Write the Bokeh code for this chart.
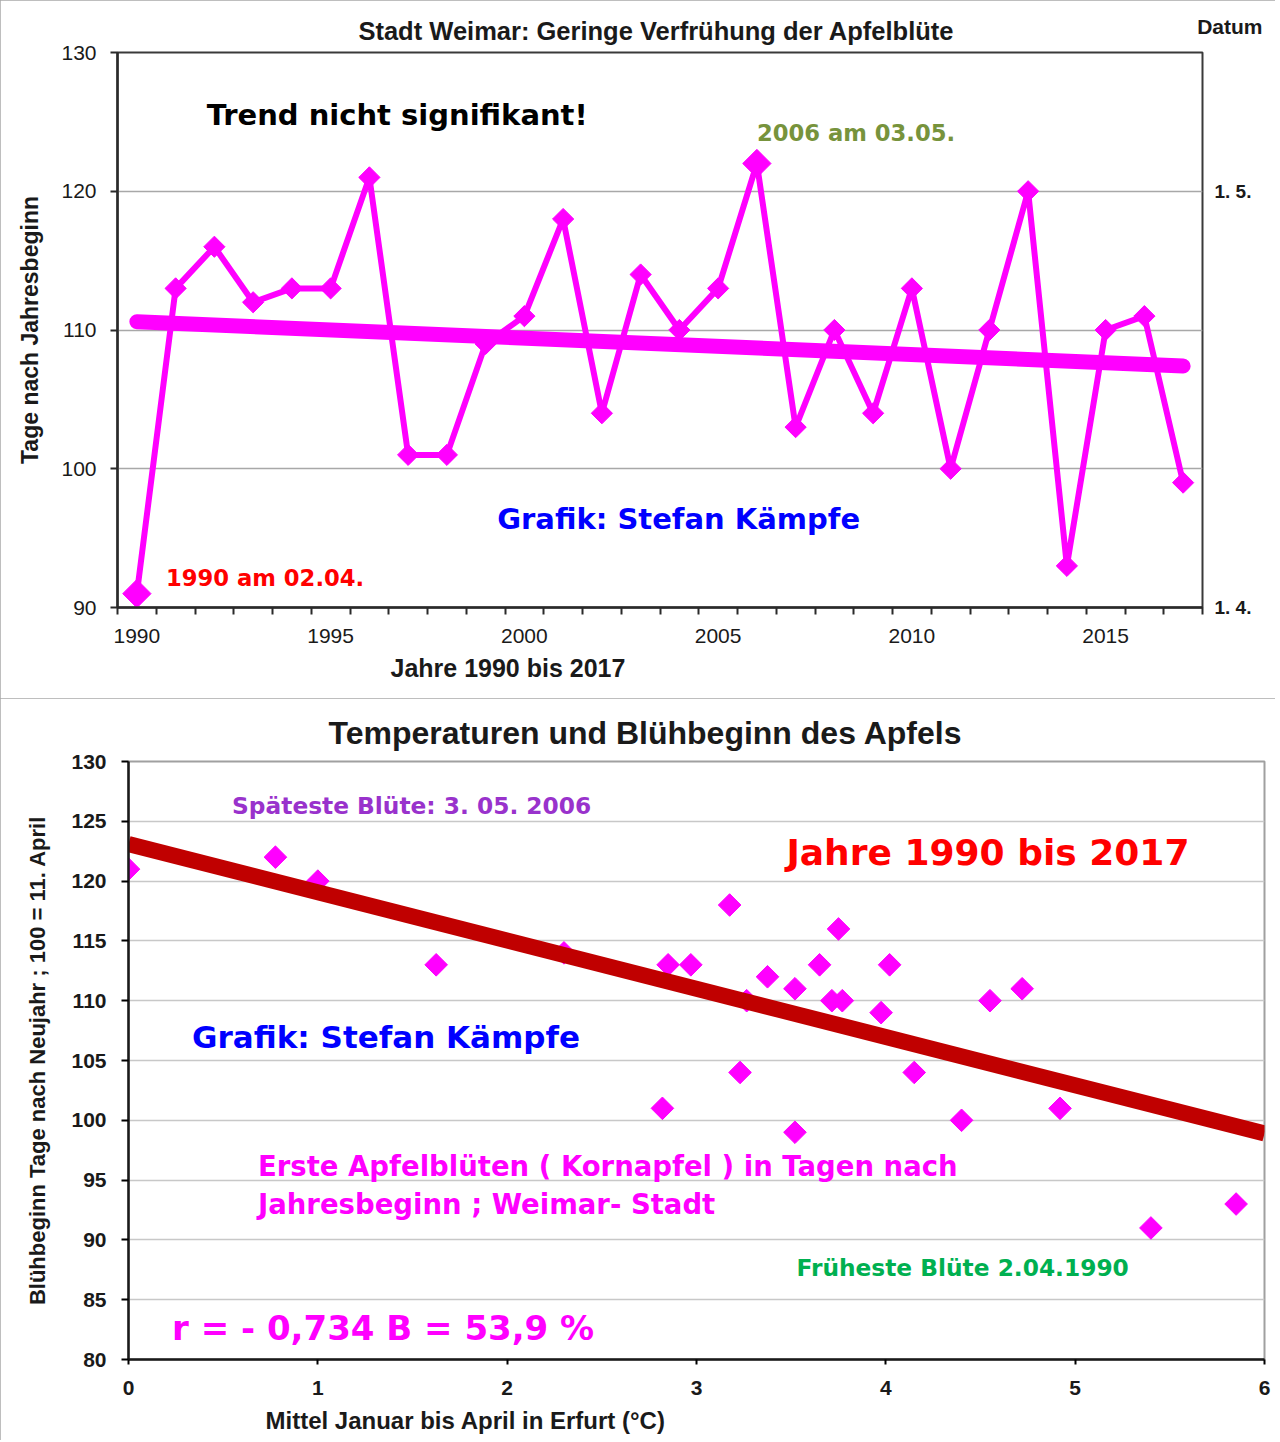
from bokeh.plotting import figure
from bokeh.models import Label, LinearAxis, FixedTicker, Range1d, Title
from bokeh.embed import file_html
from bokeh.resources import INLINE

# ---------------- data: top chart ----------------
years = list(range(1990, 2018))
bloom_days = [91, 113, 116, 112, 113, 113, 121, 101, 101, 109, 111, 118, 104, 114,
              110, 113, 122, 103, 110, 104, 113, 100, 110, 120, 93, 110, 111, 99]
trend_years = [1990, 2017]
trend_days = [110.6, 107.4]
year_tick_labels = [1990, 1995, 2000, 2005, 2010, 2015]
day_ticks_top = [90, 100, 110, 120, 130]
date_ticks = {90: "1. 4.", 120: "1. 5."}

# ---------------- data: bottom chart ----------------
temp_jan_apr = [0.0, 0.776, 1.0, 1.625, 2.30, 2.82, 2.85, 2.97, 3.175, 3.23, 3.265, 3.375,
                3.52, 3.52, 3.65, 3.715, 3.75, 3.77, 3.975, 4.02, 4.15, 4.40, 4.55, 4.72,
                4.92, 5.40, 5.85]
bloom_scatter = [121, 122, 120, 113, 114, 101, 113, 113, 118, 104, 110, 112,
                 111, 99, 113, 110, 116, 110, 109, 113, 104, 100, 110, 111,
                 101, 91, 93]
reg_temp = [0, 6]
reg_days = [123.1, 98.9]
temp_ticks = [0, 1, 2, 3, 4, 5, 6]
day_ticks_bottom = [80, 85, 90, 95, 100, 105, 110, 115, 120, 125, 130]

MAGENTA = "#FF00FF"
ARIAL = "Liberation Sans"
HEAVY = "DejaVu Sans"
INK = "#1a1a1a"

# =============== TOP CHART ===============
p1 = figure(width=1275, height=698, x_range=Range1d(1989.5, 2017.5), y_range=Range1d(90, 130),
            output_backend="svg", toolbar_location=None, title=None,
            min_border_left=117, min_border_right=73, min_border_top=52, min_border_bottom=91)
p1.styles = {"outline": "2px solid #a8a8a8", "outline-offset": "-2px"}
p1.outline_line_color = "#3a3a3a"
p1.outline_line_width = 2

p1.xgrid.visible = False
p1.ygrid.ticker = FixedTicker(ticks=[100, 110, 120])
p1.ygrid.grid_line_color = "#a8a8a8"
p1.ygrid.grid_line_width = 1.5

half_years = [y - 0.5 for y in years] + [years[-1] + 0.5]
xa = p1.xaxis[0]
xa.ticker = FixedTicker(ticks=year_tick_labels, minor_ticks=half_years)
xa.major_tick_line_color = None
xa.major_tick_out = 0
xa.minor_tick_out = 7
xa.minor_tick_in = 0
xa.minor_tick_line_color = "#2a2a2a"
xa.minor_tick_line_width = 2
xa.axis_line_color = "#2a2a2a"
xa.axis_line_width = 2.5
xa.major_label_text_font = ARIAL
xa.major_label_text_font_size = "21px"
xa.major_label_text_color = INK
xa.major_label_standoff = 14

ya = p1.yaxis[0]
ya.ticker = FixedTicker(ticks=day_ticks_top)
ya.minor_tick_line_color = None
ya.major_tick_out = 7
ya.major_tick_in = 0
ya.major_tick_line_width = 2
ya.major_tick_line_color = "#2a2a2a"
ya.axis_line_color = "#2a2a2a"
ya.axis_line_width = 2.5
ya.major_label_text_font = ARIAL
ya.major_label_text_font_size = "21px"
ya.major_label_text_color = INK
ya.major_label_standoff = 14
ya.axis_label = "Tage nach Jahresbeginn"
ya.axis_label_text_font = ARIAL
ya.axis_label_text_font_size = "23px"
ya.axis_label_text_font_style = "bold"
ya.axis_label_text_color = INK
ya.axis_label_standoff = 15

ra = LinearAxis(ticker=FixedTicker(ticks=list(date_ticks.keys())),
                major_label_overrides=date_ticks)
ra.axis_line_color = None
ra.major_tick_line_color = None
ra.minor_tick_line_color = None
ra.major_tick_out = 0
ra.major_label_standoff = 12
ra.major_label_text_font = ARIAL
ra.major_label_text_font_size = "19px"
ra.major_label_text_font_style = "bold"
ra.major_label_text_color = INK
p1.add_layout(ra, "right")

# chart title drawn as the label of an empty top axis
ta = LinearAxis(ticker=FixedTicker(ticks=[]))
ta.axis_line_color = None
ta.major_tick_line_color = None
ta.minor_tick_line_color = None
ta.major_tick_out = 0
ta.major_label_standoff = 12
ta.major_label_text_font_size = "21px"
ta.axis_label = "Stadt Weimar:  Geringe Verfrühung der Apfelblüte"
ta.axis_label_text_font = ARIAL
ta.axis_label_text_font_size = "25.5px"
ta.axis_label_text_font_style = "bold"
ta.axis_label_text_color = INK
ta.axis_label_standoff = 8
p1.add_layout(ta, "above")

p1.add_layout(Title(text="Datum", align="right", offset=-60, vertical_align="bottom",
                    text_font=ARIAL, text_font_size="21px", text_font_style="bold",
                    text_color=INK, standoff=-48), "above")

p1.add_layout(Title(text="Jahre 1990 bis 2017", align="left", offset=273,
                    text_font=ARIAL, text_font_size="25px", text_font_style="bold",
                    text_color=INK, standoff=12), "below")

p1.line(years, bloom_days, line_color=MAGENTA, line_width=6)
p1.scatter(years, bloom_days, marker="square", angle=0.785398, size=15,
           fill_color=MAGENTA, line_color=MAGENTA)
ext_idx = [bloom_days.index(min(bloom_days)), bloom_days.index(max(bloom_days))]
p1.scatter([years[i] for i in ext_idx], [bloom_days[i] for i in ext_idx],
           marker="square", angle=0.785398, size=20, fill_color=MAGENTA, line_color=MAGENTA)
p1.line(trend_years, trend_days, line_color=MAGENTA, line_width=15, line_cap="round")

def lab(p, x, y, text, size, color, font=HEAVY, style="bold", align="left"):
    p.add_layout(Label(x=x, y=y, text=text, text_font=font, text_font_size=size,
                       text_font_style=style, text_color=color, text_align=align,
                       text_baseline="middle"))

lab(p1, 1991.8, 125.5, "Trend nicht signifikant!", "29px", "#000000")
lab(p1, 2006.0, 124.2, "2006 am 03.05.", "22.7px", "#77933C")
lab(p1, 1999.3, 96.4, "Grafik: Stefan Kämpfe", "29px", "#0000FF")
lab(p1, 1990.75, 92.1, "1990 am 02.04.", "22.7px", "#FF0000")

# =============== BOTTOM CHART ===============
p2 = figure(width=1275, height=742, x_range=Range1d(0, 6), y_range=Range1d(80, 130),
            output_backend="svg", toolbar_location=None,
            min_border_left=128, min_border_right=11, min_border_top=63, min_border_bottom=81)
p2.styles = {"outline": "2px solid #a8a8a8", "outline-offset": "-2px"}
p2.title.text = "Temperaturen und Blühbeginn  des Apfels"
p2.title.align = "left"
p2.title.offset = 200
p2.title.text_font = ARIAL
p2.title.text_font_size = "32px"
p2.title.text_font_style = "bold"
p2.title.text_color = INK
p2.title.standoff = 22
p2.outline_line_color = "#a0a0a0"
p2.outline_line_width = 2

p2.xgrid.visible = False
p2.ygrid.ticker = FixedTicker(ticks=day_ticks_bottom)
p2.ygrid.grid_line_color = "#c8c8c8"
p2.ygrid.grid_line_width = 1.5

xb = p2.xaxis[0]
xb.ticker = FixedTicker(ticks=temp_ticks)
xb.minor_tick_line_color = None
xb.major_tick_out = 5
xb.major_tick_in = 0
xb.major_tick_line_width = 2
xb.axis_line_color = INK
xb.axis_line_width = 2.5
xb.major_label_text_font = ARIAL
xb.major_label_text_font_size = "21px"
xb.major_label_text_font_style = "bold"
xb.major_label_text_color = INK
xb.major_label_standoff = 16

yb = p2.yaxis[0]
yb.ticker = FixedTicker(ticks=day_ticks_bottom)
yb.minor_tick_line_color = None
yb.major_tick_out = 7
yb.major_tick_in = 0
yb.major_tick_line_width = 2
yb.axis_line_color = INK
yb.axis_line_width = 2.5
yb.major_label_text_font = ARIAL
yb.major_label_text_font_size = "21px"
yb.major_label_text_font_style = "bold"
yb.major_label_text_color = INK
yb.major_label_standoff = 15
yb.axis_label = "Blühbeginn Tage nach Neujahr ; 100 = 11. April"
yb.axis_label_text_font = ARIAL
yb.axis_label_text_font_size = "22px"
yb.axis_label_text_font_style = "bold"
yb.axis_label_text_color = INK
yb.axis_label_standoff = 18

p2.add_layout(Title(text="Mittel Januar bis April in Erfurt (°C)", align="left", offset=137,
                    text_font=ARIAL, text_font_size="24px", text_font_style="bold",
                    text_color=INK, standoff=14), "below")

p2.scatter(temp_jan_apr, bloom_scatter, marker="square", angle=0.785398, size=16,
           fill_color=MAGENTA, line_color=MAGENTA)
p2.line(reg_temp, reg_days, line_color="#C00000", line_width=16)

lab(p2, 0.547, 126.3, "Späteste Blüte: 3. 05. 2006", "23.3px", "#9932CC")
lab(p2, 3.475, 122.4, "Jahre 1990 bis 2017", "36px", "#FF0000")
lab(p2, 0.336, 107.0, "Grafik: Stefan Kämpfe", "31px", "#0000FF")
lab(p2, 0.684, 96.2, "Erste Apfelblüten ( Kornapfel )  in Tagen nach", "27.5px", MAGENTA)
lab(p2, 0.684, 92.96, "Jahresbeginn  ;  Weimar- Stadt", "27.5px", MAGENTA)
lab(p2, 3.528, 87.7, "Früheste Blüte 2.04.1990", "23.3px", "#00B050")
lab(p2, 0.23, 82.6, "r = - 0,734  B = 53,9 %", "34px", MAGENTA)

open("out.html", "w").write(file_html([p1, p2], INLINE))
